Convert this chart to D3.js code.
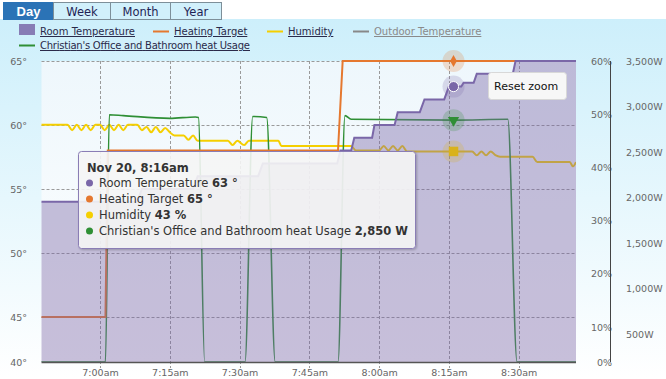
<!DOCTYPE html>
<html><head><meta charset="utf-8">
<script src="https://cdn.jsdelivr.net/npm/d3@7"></script>
<style>
body{margin:0;background:#fff;}
svg{display:block;font-family:"DejaVu Sans",Verdana,sans-serif;}
</style></head><body>
<div id="chart"></div>
<script>
// chart values
const tabs = ["Day", "Week", "Month", "Year"];
const seriesNames = ["Room Temperature", "Heating Target", "Humidity", "Outdoor Temperature", "Christian's Office and Bathroom heat Usage"];
const tempTicks = [40, 45, 50, 55, 60, 65];
const humidityTicks = [0, 10, 20, 30, 40, 50, 60];
const powerTicks = [500, 1000, 1500, 2000, 2500, 3000, 3500];
const timeTicks = ["7:00", "7:15", "7:30", "7:45", "8:00", "8:15", "8:30"];
const hoverTime = "8:16";
const hoverLabel = "Nov 20, 8:16am";

const roomTemp = [
  ["6:47", 54], ["7:08", 54], ["7:09", 55], ["7:20", 55], ["7:21", 56], ["7:34", 56], ["7:35", 57],
  ["7:51", 57], ["7:51:40", 58], ["7:54", 58], ["7:54:40", 59], ["7:58:30", 59], ["7:59", 60],
  ["8:03:20", 60], ["8:04", 61], ["8:08:45", 61], ["8:09:45", 62], ["8:14", 62], ["8:15", 63],
  ["8:17:40", 63], ["8:18:10", 63.3], ["8:20:20", 63.3], ["8:21", 64], ["8:28:45", 64], ["8:29:20", 65], ["8:43", 65]
];
const heatingTarget = [
  ["6:47", 45], ["7:01:10", 45], ["7:01:40", 58], ["7:51:10", 58], ["7:52:10", 65], ["8:43", 65]
];
const humidity = [
  ["6:47", 48], ["6:53", 48], ["6:54", 47], ["6:55", 48], ["6:56", 47], ["6:57", 48], ["6:58", 47], ["6:59", 48],
  ["7:00", 48], ["7:01", 47], ["7:02", 48], ["7:03", 47], ["7:04", 48], ["7:05", 47], ["7:06", 48], ["7:08", 48],
  ["7:09", 47], ["7:10", 47.6], ["7:11", 46.6], ["7:12", 47.6], ["7:13", 46.6], ["7:14", 47.4], ["7:15", 46.6],
  ["7:16", 46], ["7:18", 46], ["7:19", 45.2], ["7:20", 46], ["7:21", 45], ["7:27:30", 45], ["7:28:30", 44.2],
  ["7:29:30", 45], ["7:31", 44.2], ["7:32", 45], ["7:38:20", 45], ["7:39", 44], ["7:54", 44], ["7:55", 43.2],
  ["8:00", 43.2], ["8:01", 44], ["8:02", 43.2], ["8:03", 44], ["8:04", 43.2], ["8:05", 44], ["8:06", 43],
  ["8:20", 43], ["8:21", 42.3], ["8:22", 43], ["8:23", 42.3], ["8:24", 43], ["8:25", 42.3], ["8:26", 42],
  ["8:33", 42], ["8:34", 41], ["8:41", 41], ["8:41:40", 40.2], ["8:42:20", 41]
];
const heatUsage = [
  ["6:47", 0], ["7:01:10", 0], ["7:02", 2910], ["7:05", 2900], ["7:15", 2870], ["7:20:30", 2885],
  ["7:21:10", 2880], ["7:22:30", 0], ["7:31:10", 0], ["7:32:50", 2890], ["7:35:50", 2880], ["7:37:40", 0],
  ["7:51:10", 0], ["7:52:40", 2900], ["7:54", 2860], ["8:16", 2850], ["8:27:40", 2860], ["8:29:40", 0], ["8:43", 0]
];

const colors = {room: "#7a67a8", target: "#e5782f", hum: "#f5cf00", outdoor: "#888888", usage: "#2f8f35"};

const w = 666, h = 379;
const pLeft = 41.5, pRight = 576, pTop = 61, pBottom = 362;

const parseT = function(s) {
  const p = s.split(":").map(Number);
  return new Date(2012, 10, 20, p[0], p[1], p[2] || 0);
};

const x = d3.scaleTime().domain([parseT("6:47:25"), parseT("8:42:20")]).range([pLeft, pRight]);
const yTemp = d3.scaleLinear().domain([40, 45, 65]).range([pBottom, 317, pTop]);
const yHum = d3.scaleLinear().domain([0, 10, 60]).range([pBottom, 327, pTop]);
const yPow = d3.scaleLinear().domain([0, 500, 3500]).range([pBottom, 334, pTop]);

const svg = d3.select("#chart").append("svg").attr("width", w).attr("height", h);
const defs = svg.append("defs");

const bgGrad = defs.append("linearGradient").attr("id", "bg").attr("x1", 0).attr("y1", 0).attr("x2", 0).attr("y2", 1);
bgGrad.append("stop").attr("offset", "0%").attr("stop-color", "#cdeffb");
bgGrad.append("stop").attr("offset", "100%").attr("stop-color", "#ffffff");
const plotGrad = defs.append("linearGradient").attr("id", "plotbg").attr("x1", 0).attr("y1", 0).attr("x2", 0).attr("y2", 1);
plotGrad.append("stop").attr("offset", "0%").attr("stop-color", "#eef7fc");
plotGrad.append("stop").attr("offset", "100%").attr("stop-color", "#ffffff");
defs.append("clipPath").attr("id", "clip").append("rect")
  .attr("x", pLeft).attr("y", pTop - 2).attr("width", pRight - pLeft).attr("height", pBottom - pTop + 2);
const shadow = defs.append("filter").attr("id", "shadow").attr("x", "-10%").attr("y", "-10%").attr("width", "130%").attr("height", "130%");
shadow.append("feDropShadow").attr("dx", 1).attr("dy", 1).attr("stdDeviation", 1.2).attr("flood-opacity", 0.25);

svg.append("rect").attr("width", w).attr("height", h).attr("fill", "#fff");
svg.append("rect").attr("y", 19).attr("width", w).attr("height", h - 19).attr("fill", "url(#bg)");

// tabs
const tabEdges = [3, 53, 110, 170, 221];
const tabG = svg.append("g");
tabs.forEach(function(t, i) {
  const sel = i === 0;
  tabG.append("rect")
    .attr("x", tabEdges[i] + 0.5).attr("y", 2.5)
    .attr("width", tabEdges[i + 1] - tabEdges[i]).attr("height", 17)
    .attr("fill", sel ? "#2b73b6" : "#d1f0fb")
    .attr("stroke", sel ? "#2b73b6" : "#7d8f99");
  tabG.append("text")
    .attr("x", (tabEdges[i] + tabEdges[i + 1]) / 2 + 0.5).attr("y", 15.5)
    .attr("text-anchor", "middle")
    .attr("font-family", sel ? "Liberation Sans, Arial, sans-serif" : null)
    .attr("font-size", sel ? 13 : 11.5)
    .attr("font-weight", sel ? "bold" : "normal")
    .attr("fill", sel ? "#fff" : "#1f1f55")
    .text(t);
});

// legend
const legend = svg.append("g").attr("font-size", 10);
const legendItems = [
  {name: seriesNames[0], color: colors.room, type: "area", x: 19, y: 35},
  {name: seriesNames[1], color: colors.target, type: "line", x: 153, y: 35},
  {name: seriesNames[2], color: colors.hum, type: "line", x: 267, y: 35},
  {name: seriesNames[3], color: colors.outdoor, type: "line", x: 353, y: 35, hidden: true},
  {name: seriesNames[4], color: colors.usage, type: "line", x: 19, y: 49}
];
legendItems.forEach(function(d) {
  if (d.type === "area") {
    legend.append("rect").attr("x", d.x).attr("y", d.y - 11).attr("width", 16).attr("height", 11).attr("fill", d.color).attr("opacity", 0.85);
  } else {
    legend.append("line").attr("x1", d.x).attr("x2", d.x + 16).attr("y1", d.y - 3.5).attr("y2", d.y - 3.5)
      .attr("stroke", d.color).attr("stroke-width", 2);
  }
  legend.append("text").attr("x", d.x + 21).attr("y", d.y)
    .attr("fill", d.hidden ? "#8a8a8a" : "#2a2a4a")
    .attr("text-decoration", "underline")
    .attr("textLength", d.name.length > 30 ? 210 : null)
    .text(d.name);
});

// plot background
svg.append("rect").attr("x", pLeft).attr("y", pTop).attr("width", pRight - pLeft).attr("height", pBottom - pTop).attr("fill", "url(#plotbg)");

// grid
const grid = svg.append("g").attr("stroke", "#9a9a9a").attr("stroke-dasharray", "3,2").attr("stroke-width", 1);
tempTicks.filter(d => d > 40).forEach(function(d) {
  grid.append("line").attr("x1", pLeft).attr("x2", pRight).attr("y1", Math.round(yTemp(d)) + 0.5).attr("y2", Math.round(yTemp(d)) + 0.5);
});
timeTicks.forEach(function(t) {
  const xx = Math.round(x(parseT(t))) + 0.5;
  grid.append("line").attr("x1", xx).attr("x2", xx).attr("y1", pTop).attr("y2", pBottom + 6);
});

const series = svg.append("g").attr("clip-path", "url(#clip)");
const lineOf = (yScale, curve) => d3.line().x(d => x(parseT(d[0]))).y(d => yScale(d[1])).curve(curve);

series.append("path").datum(humidity).attr("fill", "none").attr("stroke", colors.hum).attr("stroke-width", 2)
  .attr("d", lineOf(yHum, d3.curveMonotoneX));
series.append("path").datum(heatUsage).attr("fill", "none").attr("stroke", colors.usage).attr("stroke-width", 1.6)
  .attr("d", lineOf(yPow, d3.curveMonotoneX));
series.append("path").datum(heatingTarget).attr("fill", "none").attr("stroke", colors.target).attr("stroke-width", 2)
  .attr("d", lineOf(yTemp, d3.curveLinear));

const area = d3.area().x(d => x(parseT(d[0]))).y0(pBottom).y1(d => yTemp(d[1]));
series.append("path").datum(roomTemp).attr("fill", colors.room).attr("fill-opacity", 0.42).attr("d", area);
series.append("path").datum(roomTemp).attr("fill", "none").attr("stroke", colors.room).attr("stroke-width", 2)
  .attr("d", lineOf(yTemp, d3.curveLinear));

// axes
const axisText = function(g) {
  g.select(".domain").remove();
  g.selectAll("text").attr("fill", "#666").attr("font-size", 9.5).attr("font-family", "DejaVu Sans, sans-serif");
};
svg.append("g").attr("transform", "translate(27,0)")
  .call(d3.axisLeft(yTemp).tickValues(tempTicks).tickFormat(d => d + "°").tickSize(0).tickPadding(0))
  .call(axisText);
svg.append("g").attr("transform", "translate(612,0)")
  .call(d3.axisLeft(yHum).tickValues(humidityTicks).tickFormat(d => d + "%").tickSize(0).tickPadding(0))
  .call(axisText);
svg.append("line").attr("x1", 610.5).attr("x2", 610.5).attr("y1", pTop).attr("y2", pBottom).attr("stroke", "#444");
svg.append("g").attr("transform", "translate(626,0)")
  .call(d3.axisRight(yPow).tickValues(powerTicks).tickFormat(d => d3.format(",")(d) + "W").tickSize(0).tickPadding(0))
  .call(axisText);
const fmt = d3.timeFormat("%-I:%M%p");
svg.append("g").attr("transform", "translate(0," + pBottom + ")")
  .call(d3.axisBottom(x).tickValues(timeTicks.map(parseT)).tickFormat(d => fmt(d).toLowerCase()).tickSize(0).tickPadding(7))
  .call(axisText);
svg.append("line").attr("x1", pLeft).attr("x2", pRight).attr("y1", pBottom + 0.5).attr("y2", pBottom + 0.5)
  .attr("stroke", "#555").attr("stroke-width", 1.5);

// hover markers
const valueAt = function(data, t) {
  const tt = parseT(t).getTime();
  for (let i = 1; i < data.length; i++) {
    const a = parseT(data[i - 1][0]).getTime(), b = parseT(data[i][0]).getTime();
    if (tt >= a && tt <= b) return data[i - 1][1] + (data[i][1] - data[i - 1][1]) * (tt - a) / (b - a);
  }
  return data[data.length - 1][1];
};
const hx = x(parseT(hoverTime));
const vRoom = Math.round(valueAt(roomTemp, hoverTime));
const vTarget = Math.round(valueAt(heatingTarget, hoverTime));
const vHum = Math.round(valueAt(humidity, hoverTime));
const vUse = Math.round(valueAt(heatUsage, hoverTime));
const markers = svg.append("g");
const markerList = [
  {y: yTemp(vTarget), color: colors.target, sym: d3.symbolDiamond, size: 40},
  {y: yTemp(vRoom), color: colors.room, sym: d3.symbolCircle, size: 80},
  {y: yPow(vUse), color: colors.usage, sym: d3.symbolTriangle, size: 55, rot: 180},
  {y: yHum(vHum), color: "#d9b21c", sym: d3.symbolSquare, size: 90}
];
markerList.forEach(function(m) {
  markers.append("circle").attr("cx", hx).attr("cy", m.y).attr("r", 11).attr("fill", m.color).attr("opacity", 0.22);
  markers.append("path").attr("d", d3.symbol().type(m.sym).size(m.size))
    .attr("transform", "translate(" + hx + "," + m.y + ")" + (m.rot ? " rotate(" + m.rot + ")" : ""))
    .attr("fill", m.color).attr("stroke", "#fff").attr("stroke-width", m.sym === d3.symbolCircle ? 1 : 0);
});

// tooltip
const tip = svg.append("g").attr("transform", "translate(78,151)");
tip.append("rect").attr("x", 0.5).attr("y", 0.5).attr("width", 337).attr("height", 97).attr("rx", 3)
  .attr("fill", "rgba(248,248,248,0.88)").attr("stroke", "#8a7db5").attr("filter", "url(#shadow)");
tip.append("text").attr("x", 9).attr("y", 21).attr("font-size", 11.5).attr("font-weight", "bold").attr("fill", "#333").text(hoverLabel);
const tipRows = [
  {name: seriesNames[0], color: colors.room, value: vRoom + " °"},
  {name: seriesNames[1], color: colors.target, value: vTarget + " °"},
  {name: seriesNames[2], color: colors.hum, value: vHum + " %"},
  {name: seriesNames[4], color: colors.usage, value: d3.format(",")(vUse) + " W"}
];
tipRows.forEach(function(r, i) {
  const yy = 36 + i * 16;
  tip.append("circle").attr("cx", 11.5).attr("cy", yy - 4).attr("r", 3.5).attr("fill", r.color);
  const t = tip.append("text").attr("x", 21).attr("y", yy).attr("font-size", 11.5).attr("fill", "#333");
  t.append("tspan").text(r.name + " ");
  t.append("tspan").attr("font-weight", "bold").text(r.value);
});

// reset zoom button
const btn = svg.append("g").attr("transform", "translate(488,72)");
btn.append("rect").attr("x", 0.5).attr("y", 0.5).attr("width", 78).attr("height", 27).attr("rx", 3)
  .attr("fill", "#f7f7f7").attr("stroke", "#d8d8d8");
btn.append("text").attr("x", 6).attr("y", 18).attr("font-size", 11).attr("fill", "#111").text("Reset zoom");
</script>
</body></html>
